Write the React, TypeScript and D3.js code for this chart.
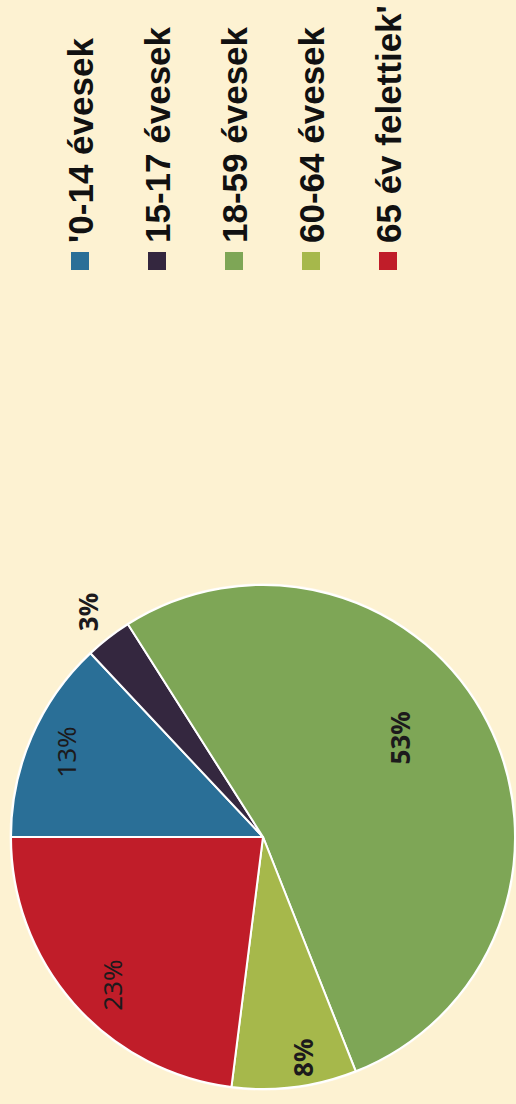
import React from 'react';
import * as d3 from 'd3';

// age groups (legend order = slice order, clockwise from 12 o'clock)
const categories = ["'0-14 évesek", '15-17 évesek', '18-59 évesek', '60-64 évesek', "65 év felettiek'"];
const shares = [13, 3, 53, 8, 23];
const sliceColors = ['#2a6f97', '#34273f', '#7ea656', '#a6b84b', '#c01d29'];

// label placement tweaks (fraction of radius, degrees)
const labelRadius = [0.85, 1.13, 0.67, 0.89, 0.84];
const labelShift = [0, 0, -9, -3, -3];
const labelBold = [false, true, true, true, false];

const W = 516;
const H = 1104;

const App = () => {
    // chart is drawn in a landscape frame (H x W) then turned -90deg
    const cx = 267;
    const cy = 263;
    const radius = 252;

    const pie = d3.pie<number>().sort(null).value(d => d).startAngle(0).endAngle(2 * Math.PI);
    const arcs = pie(shares);
    const arc = d3.arc<d3.PieArcDatum<number>>().innerRadius(0).outerRadius(radius);

    const legendX = 834;
    const legendY = d3.scalePoint<number>().domain(d3.range(categories.length)).range([80, 388]);

    return (
        <svg width={W} height={H} style={{ position: 'absolute', left: 0, top: 0, display: 'block' }}>
            <rect width={W} height={H} fill="#fdf2d2" />
            <g transform={`translate(0,${H}) rotate(-90)`}>
                <g transform={`translate(${cx},${cy})`}>
                    <circle r={radius + 1.5} fill="#fffaf0" />
                    {arcs.map((a, i) => (
                        <path key={i} d={arc(a) || ''} fill={sliceColors[i]} stroke="#ffffff" strokeWidth={2} />
                    ))}
                    {arcs.map((a, i) => {
                        const ang = (a.startAngle + a.endAngle) / 2 + (labelShift[i] * Math.PI) / 180;
                        const [lx, ly] = d3.pointRadial(ang, radius * labelRadius[i]);
                        return (
                            <text
                                key={i}
                                x={lx}
                                y={ly}
                                textAnchor="middle"
                                dominantBaseline="central"
                                fontFamily="'Noto Sans', 'DejaVu Sans', sans-serif"
                                fontWeight={labelBold[i] ? 700 : 400}
                                fontSize={26}
                                fill="#1c1a1c"
                            >
                                {shares[i]}%
                            </text>
                        );
                    })}
                </g>
                {categories.map((c, i) => (
                    <g key={c} transform={`translate(${legendX},${legendY(i)})`}>
                        <rect x={0} y={-9} width={18} height={18} fill={sliceColors[i]} />
                        <text
                            x={27}
                            y={12.5}
                            fontFamily="'Liberation Sans', Arial, sans-serif"
                            fontWeight={700}
                            fontSize={35}
                            fill="#111111"
                        >
                            {c}
                        </text>
                    </g>
                ))}
            </g>
        </svg>
    );
};

export default App;
